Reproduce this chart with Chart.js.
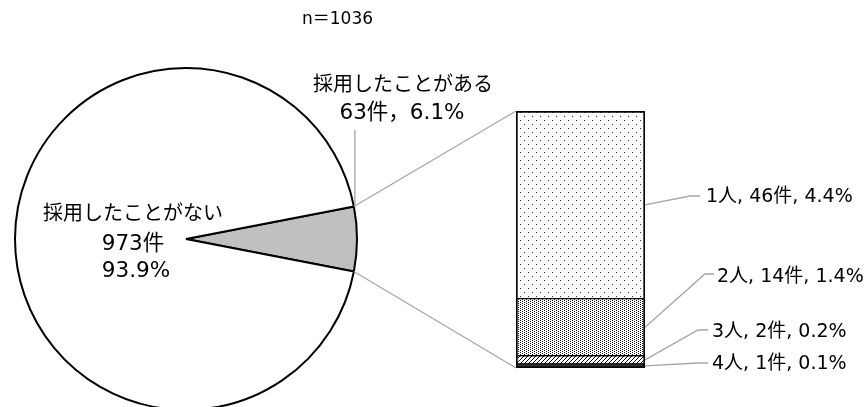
<!DOCTYPE html>
<html><head><meta charset="utf-8">
<script src="https://cdn.jsdelivr.net/npm/chart.js@4/dist/chart.umd.min.js"></script>
<style>
html,body{margin:0;padding:0;background:#fff;overflow:hidden;width:868px;height:407px}
#wrap{position:relative;width:868px;height:420px}
canvas{position:absolute;left:0;top:0}
</style></head><body>
<div id="wrap"><canvas id="pie" width="868" height="420"></canvas><canvas id="bar" width="868" height="420"></canvas></div>
<script>
// ---- data ----
const CATEGORIES = ['採用したことがある', '採用したことがない'];
const COUNTS = [63, 973];
const PERCENTS = ['6.1%', '93.9%'];
const BREAKDOWN_LABELS = ['1人', '2人', '3人', '4人'];
const BREAKDOWN_COUNTS = [46, 14, 2, 1];
const BREAKDOWN_PERCENTS = ['4.4%', '1.4%', '0.2%', '0.1%'];
const N_LABEL = 'n＝1036';

const FONT = '"DejaVu Sans", "Noto Sans CJK JP", sans-serif';

function makePattern(w, h, pixels, fg, bg) {
  const c = document.createElement('canvas');
  c.width = w; c.height = h;
  const x = c.getContext('2d');
  x.fillStyle = bg; x.fillRect(0, 0, w, h);
  x.fillStyle = fg;
  pixels.forEach(p => x.fillRect(p[0], p[1], 1, 1));
  return x.createPattern(c, 'repeat');
}
const PATTERNS = [
  makePattern(8, 8, [[0,0],[4,4]], '#222', '#fff'),
  makePattern(4, 2, [[0,0],[2,1]], '#111', '#fff'),
  makePattern(4, 4, [[3,0],[2,1],[1,2],[0,3]], '#111', '#fff'),
  '#3a3a3a'
];

const total = COUNTS.reduce((a, b) => a + b, 0);
const sliceDeg = COUNTS[0] / total * 360;

const pieChart = new Chart(document.getElementById('pie'), {
  type: 'pie',
  data: {
    labels: CATEGORIES,
    datasets: [{
      data: COUNTS,
      backgroundColor: ['#c0c0c0', '#ffffff'],
      borderColor: '#000',
      borderWidth: 2
    }]
  },
  options: {
    responsive: false,
    devicePixelRatio: 1,
    animation: false,
    rotation: 90 - sliceDeg / 2,
    layout: { padding: { left: 14, right: 510, top: 67, bottom: 9 } },
    plugins: { legend: { display: false }, tooltip: { enabled: false } }
  }
});

const barOrder = BREAKDOWN_LABELS.map((_, i) => i).reverse(); // bottom first
const nb = BREAKDOWN_LABELS.length;
const barDatasets = barOrder.map((i, k) => ({
  label: BREAKDOWN_LABELS[i],
  data: [BREAKDOWN_COUNTS[i]],
  backgroundColor: PATTERNS[i],
  borderColor: '#000',
  borderWidth: { left: 2, right: 2, top: i === 0 ? 2 : 1, bottom: i === nb - 1 ? 2 : 1 },
  borderSkipped: false,
  barPercentage: 1,
  categoryPercentage: 1
}));

const LABEL_LAYOUT = [
  { ex: 690, ey: 196, hx: 700, tx: 706, ty: 197 },
  { ex: 705, ey: 274, hx: 714, tx: 717, ty: 277 },
  { ex: 698, ey: 330, hx: 708, tx: 712, ty: 332 },
  { ex: 698, ey: 363, hx: 708, tx: 712, ty: 364 }
];

const overlay = {
  id: 'overlay',
  afterDraw(chart) {
    const ctx = chart.ctx;
    const arc = pieChart.getDatasetMeta(0).data[0];
    const a = arc.getProps(['x', 'y', 'outerRadius', 'startAngle', 'endAngle'], true);
    const p1 = { x: a.x + a.outerRadius * Math.cos(a.startAngle), y: a.y + a.outerRadius * Math.sin(a.startAngle) };
    const p2 = { x: a.x + a.outerRadius * Math.cos(a.endAngle), y: a.y + a.outerRadius * Math.sin(a.endAngle) };
    const els = BREAKDOWN_LABELS.map((_, i) => {
      const k = barOrder.indexOf(i);
      return chart.getDatasetMeta(k).data[0].getProps(['x', 'y', 'base', 'width'], true);
    });
    const left = els[0].x - els[0].width / 2;
    const right = els[0].x + els[0].width / 2;
    const top = els[0].y;
    const bottom = els[nb - 1].base;

    ctx.save();
    ctx.strokeStyle = '#a6a6a6';
    ctx.lineWidth = 1.3;
    ctx.beginPath();
    ctx.moveTo(p1.x, p1.y); ctx.lineTo(left, top);
    ctx.moveTo(p2.x, p2.y); ctx.lineTo(left, bottom);
    // leader for pie label
    ctx.moveTo(p1.x + 1, 130); ctx.lineTo(p1.x + 1, p1.y);
    els.forEach((e, i) => {
      const L = LABEL_LAYOUT[i];
      const my = (e.y + e.base) / 2;
      ctx.moveTo(right, my); ctx.lineTo(L.ex, L.ey); ctx.lineTo(L.hx, L.ey);
    });
    ctx.stroke();

    ctx.fillStyle = '#000';
    ctx.textBaseline = 'middle';
    ctx.textAlign = 'center';
    ctx.font = '20px ' + FONT;
    ctx.fillText(CATEGORIES[0], 403, 86);
    ctx.fillText(CATEGORIES[1], 133, 215);
    ctx.font = '21.5px ' + FONT;
    ctx.fillText(COUNTS[0] + '件，' + PERCENTS[0], 402, 113);
    ctx.fillText(COUNTS[1] + '件', 133, 244);
    ctx.fillText(PERCENTS[1], 136, 271);
    ctx.textAlign = 'left';
    ctx.font = '17px ' + FONT;
    ctx.fillText(N_LABEL, 302, 20);
    ctx.font = '19px ' + FONT;
    els.forEach((e, i) => {
      const L = LABEL_LAYOUT[i];
      ctx.fillText(BREAKDOWN_LABELS[i] + ', ' + BREAKDOWN_COUNTS[i] + '件, ' + BREAKDOWN_PERCENTS[i], L.tx, L.ty);
    });
    ctx.restore();
  }
};

new Chart(document.getElementById('bar'), {
  type: 'bar',
  data: { labels: [''], datasets: barDatasets },
  options: {
    responsive: false,
    devicePixelRatio: 1,
    animation: false,
    layout: { padding: { left: 516, right: 223, top: 111, bottom: 52 } },
    scales: {
      x: { stacked: true, display: false },
      y: { stacked: true, display: false, min: 0, max: BREAKDOWN_COUNTS.reduce((a, b) => a + b, 0) }
    },
    plugins: { legend: { display: false }, tooltip: { enabled: false } }
  },
  plugins: [overlay]
});
</script>
</body></html>
